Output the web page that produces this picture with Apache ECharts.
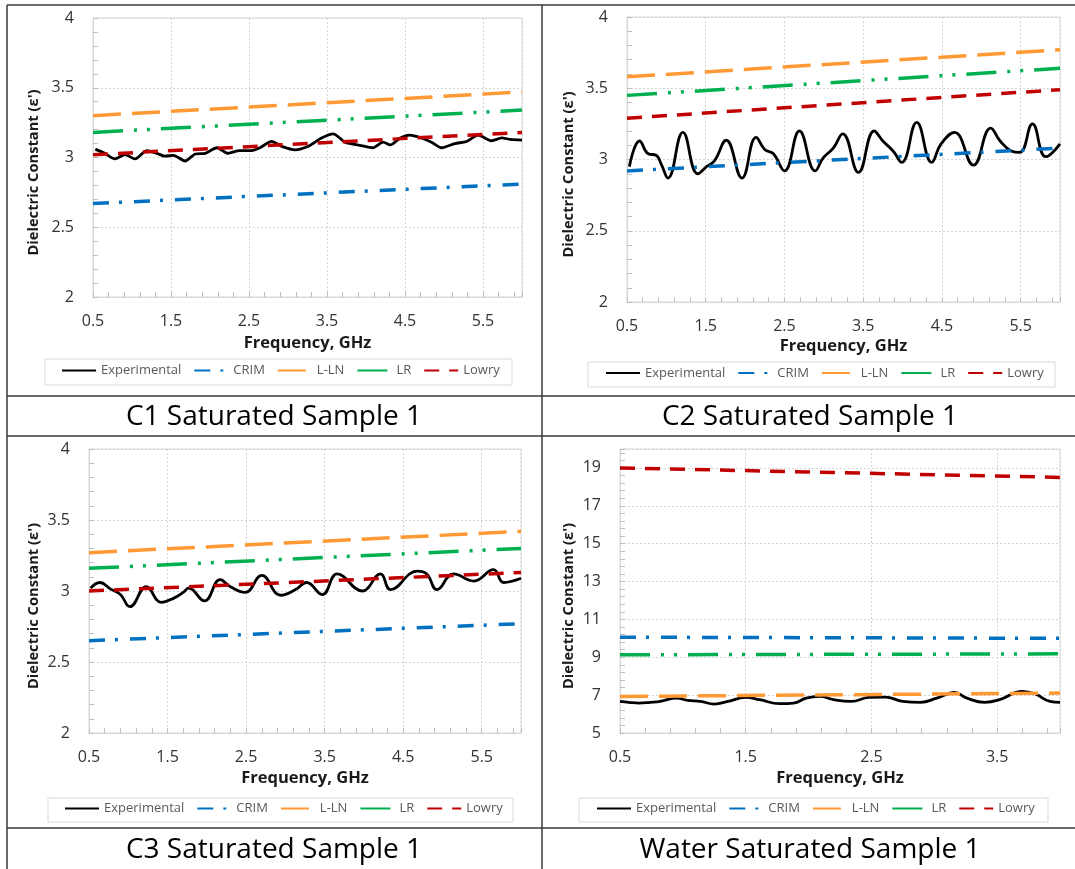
<!DOCTYPE html>
<html><head><meta charset="utf-8">
<script src="https://cdn.jsdelivr.net/npm/echarts@6/dist/echarts.min.js"></script>
<style>html,body{margin:0;padding:0;background:#fff}#c{width:1075px;height:869px}</style>
</head><body><div id="c"></div>
<script>
// ---------------- DATA ----------------
const seriesNames = ['Experimental', 'CRIM', 'L-LN', 'LR', 'Lowry'];
const panelTitles = ['C1 Saturated Sample 1', 'C2 Saturated Sample 1', 'C3 Saturated Sample 1', 'Water Saturated Sample 1'];
const xTitle = 'Frequency, GHz';
const yTitle = "Dielectric Constant (ε')";

// C1
const c1Freq = [0.53,0.65,0.78,0.91,1.04,1.19,1.32,1.42,1.53,1.68,1.81,1.94,2.09,2.23,2.38,2.53,2.64,2.79,2.92,3.09,3.26,3.43,3.58,3.73,3.94,4.09,4.22,4.31,4.44,4.56,4.71,4.84,4.97,5.14,5.29,5.44,5.61,5.74,5.85,6.0];
const c1Exp  = [3.06,3.03,2.99,3.02,2.99,3.05,3.03,3.01,3.015,2.975,3.025,3.03,3.07,3.03,3.05,3.05,3.07,3.115,3.08,3.055,3.08,3.14,3.17,3.11,3.085,3.07,3.11,3.09,3.14,3.16,3.14,3.11,3.07,3.10,3.115,3.16,3.12,3.14,3.13,3.125];
const c1ModelFreq = [0.5, 6.0];
const c1Crim  = [2.67, 2.81];
const c1Lln   = [3.30, 3.47];
const c1Lr    = [3.18, 3.34];
const c1Lowry = [3.02, 3.18];

// C2
const c2Freq = [0.53,0.66,0.77,0.87,0.94,1.02,1.21,1.40,1.51,1.61,1.76,1.96,2.14,2.25,2.36,2.50,2.69,2.89,2.99,3.12,3.24,3.44,3.64,3.75,3.88,3.99,4.18,4.37,4.49,4.66,4.90,5.12,5.24,5.38,5.49,5.65,5.82,6.0];
const c2Exp  = [2.95,3.13,3.04,3.03,2.96,2.87,3.19,2.90,2.95,2.99,3.135,2.87,3.155,3.07,3.04,2.92,3.20,2.92,3.01,3.08,3.18,2.91,3.20,3.13,3.06,2.98,3.26,2.98,3.11,3.19,2.96,3.22,3.13,3.06,3.05,3.25,3.02,3.11];
const c2ModelFreq = [0.5, 6.0];
const c2Crim  = [2.92, 3.08];
const c2Lln   = [3.58, 3.77];
const c2Lr    = [3.45, 3.64];
const c2Lowry = [3.29, 3.49];

// C3
const c3Freq = [0.52,0.64,0.77,0.90,1.02,1.23,1.42,1.58,1.70,1.77,1.97,2.17,2.30,2.49,2.70,2.94,3.13,3.27,3.47,3.66,3.98,4.21,4.34,4.68,4.80,4.93,5.14,5.40,5.65,5.78,6.0];
const c3Exp  = [3.02,3.06,3.015,2.975,2.89,3.03,2.92,2.95,2.99,3.02,2.93,3.08,3.03,2.99,3.11,2.97,3.01,3.06,2.975,3.12,3.00,3.12,3.01,3.14,3.12,3.01,3.12,3.07,3.15,3.06,3.09];
const c3ModelFreq = [0.5, 6.0];
const c3Crim  = [2.65, 2.77];
const c3Lln   = [3.27, 3.42];
const c3Lr    = [3.16, 3.30];
const c3Lowry = [3.00, 3.13];

// Water
const c4Freq = [0.5,0.57,0.65,0.74,0.82,0.95,1.04,1.14,1.25,1.36,1.50,1.61,1.77,1.88,1.98,2.09,2.20,2.34,2.48,2.61,2.75,2.89,3.02,3.16,3.26,3.40,3.52,3.70,3.80,3.92,4.0];
const c4Exp  = [6.67,6.62,6.58,6.62,6.67,6.84,6.72,6.67,6.53,6.67,6.88,6.76,6.55,6.58,6.84,6.93,6.76,6.67,6.88,6.90,6.67,6.62,6.84,7.14,6.84,6.62,6.76,7.20,7.07,6.67,6.62];
const c4ModelFreq = [0.5, 4.0];
const c4Crim  = [10.06, 10.0];
const c4Lln   = [6.93, 7.11];
const c4Lr    = [9.13, 9.18];
const c4Lowry = [19.0, 18.5];

// axis ranges / ticks
const xRanges = [[0.5, 6.0, 1], [0.5, 6.0, 1], [0.5, 6.0, 1], [0.5, 4.0, 1]];
const yRanges = [[2, 4, 0.5], [2, 4, 0.5], [2, 4, 0.5], [5, 20, 2]];

// ---------------- LAYOUT / STYLE ----------------
const FONT = "'Open Sans', sans-serif";
const grids = [
  {left: 93,  top: 18,  width: 429, height: 279},
  {left: 627, top: 17,  width: 433, height: 285},
  {left: 89,  top: 449, width: 432, height: 284},
  {left: 620, top: 449, width: 440, height: 284}
];
const yNameGap = [52, 51, 48, 44];
const xNameGap = [38, 36, 37, 37];
const legendBoxes = [[45, 359, 467, 26], [588, 362, 467, 25], [48, 798, 465, 24], [579, 798, 469, 24]];
const legendLeft = [61, 605, 64, 596];
const titlePos = [[274, 417], [810, 417], [274, 850], [810, 850]];

const styles = {
  'Experimental': {color: '#000000', width: 2.8, type: 'solid'},
  'CRIM':  {color: '#0070C0', width: 3.5, type: [16, 10, 3, 12]},
  'L-LN':  {color: '#FF9933', width: 3.5, type: [28, 11]},
  'LR':    {color: '#00B050', width: 3.5, type: [30, 11, 3, 10, 3, 11]},
  'Lowry': {color: '#C00000', width: 3.5, type: [15, 10]}
};

const panels = [
  {freq: c1Freq, exp: c1Exp, mf: c1ModelFreq, models: [c1Crim, c1Lln, c1Lr, c1Lowry]},
  {freq: c2Freq, exp: c2Exp, mf: c2ModelFreq, models: [c2Crim, c2Lln, c2Lr, c2Lowry]},
  {freq: c3Freq, exp: c3Exp, mf: c3ModelFreq, models: [c3Crim, c3Lln, c3Lr, c3Lowry]},
  {freq: c4Freq, exp: c4Exp, mf: c4ModelFreq, models: [c4Crim, c4Lln, c4Lr, c4Lowry]}
];

const zip = (xs, ys) => xs.map((x, i) => [x, ys[i]]);

const gridColor = '#d9d9d9';
const option = {
  animation: false,
  backgroundColor: '#ffffff',
  textStyle: {fontFamily: FONT},
  grid: grids.map(g => Object.assign({show: true, borderColor: gridColor, borderWidth: 1, backgroundColor: 'transparent'}, g)),
  xAxis: grids.map((g, i) => ({
    gridIndex: i, type: 'value',
    min: xRanges[i][0], max: xRanges[i][1], interval: xRanges[i][2],
    name: xTitle, nameLocation: 'middle', nameGap: xNameGap[i],
    nameTextStyle: {fontFamily: FONT, fontSize: 16.5, fontWeight: 'bold', color: '#1a1a1a'},
    axisLine: {show: true, lineStyle: {color: gridColor, width: 1}},
    axisTick: {show: true, inside: true, length: 5, lineStyle: {color: '#bfbfbf'}},
    minorTick: {show: true, splitNumber: 5, length: 5, lineStyle: {color: '#bfbfbf'}},
    axisLabel: {fontFamily: FONT, fontSize: 16, color: '#333333', margin: 16, showMaxLabel: false},
    splitLine: {show: true, lineStyle: {color: '#d4d4d4', type: [2, 2], width: 1}}
  })),
  yAxis: grids.map((g, i) => ({
    gridIndex: i, type: 'value',
    min: yRanges[i][0], max: yRanges[i][1], interval: yRanges[i][2],
    name: yTitle, nameLocation: 'middle', nameGap: yNameGap[i], nameRotate: 90,
    nameTextStyle: {fontFamily: FONT, fontSize: 14.7, fontWeight: 'bold', color: '#1a1a1a', padding: [0, 30, 0, 0]},
    axisLine: {show: true, lineStyle: {color: gridColor, width: 1}},
    axisTick: {show: true, inside: true, length: 5, lineStyle: {color: '#bfbfbf'}},
    minorTick: {show: true, splitNumber: 5, length: 5, lineStyle: {color: '#bfbfbf'}},
    axisLabel: {fontFamily: FONT, fontSize: 16, color: '#333333', margin: 19, showMaxLabel: i === 3 ? false : true},
    splitLine: {show: true, lineStyle: {color: '#d4d4d4', type: [2, 2], width: 1}}
  })),
  legend: legendBoxes.map((b, i) => ({
    orient: 'horizontal', left: legendLeft[i], top: b[1] + b[3] / 2 - 8,
    padding: 0, itemGap: 12, itemWidth: 34, itemHeight: 14,
    data: seriesNames,
    itemStyle: {opacity: 0, color: 'rgba(0,0,0,0)', borderWidth: 0},
    textStyle: {fontFamily: FONT, fontSize: 13, color: '#595959'},
    selectedMode: false
  })),
  series: [],
  graphic: []
};

panels.forEach((p, i) => {
  const all = [zip(p.freq, p.exp)].concat(p.models.map(m => zip(p.mf, m)));
  seriesNames.forEach((name, k) => {
    const s = styles[name];
    option.series.push({
      name: name, type: 'line', xAxisIndex: i, yAxisIndex: i,
      data: all[k], showSymbol: false, symbol: 'none',
      smooth: k === 0 ? (i === 0 ? 0.25 : 0.45) : false,
      lineStyle: {color: s.color, width: s.width, type: s.type, cap: 'butt'},
      itemStyle: {color: s.color},
      emphasis: {disabled: true}, silent: true, z: 2
    });
  });
});

// table borders
const tableLine = (x1, y1, x2, y2) => ({type: 'line', silent: true, z: 100,
  shape: {x1, y1, x2, y2}, style: {stroke: '#3a3a3a', lineWidth: 1.5}});
option.graphic.push(
  tableLine(7, 5, 1075, 5),
  tableLine(7, 5, 7, 869),
  tableLine(542, 5, 542, 869),
  tableLine(7, 396, 1075, 396),
  tableLine(7, 436, 1075, 436),
  tableLine(7, 828, 1075, 828)
);
legendBoxes.forEach(b => option.graphic.push({type: 'rect', silent: true, z: 0,
  shape: {x: b[0], y: b[1], width: b[2], height: b[3]},
  style: {fill: 'none', stroke: '#d9d9d9', lineWidth: 1}}));
titlePos.forEach((t, i) => option.graphic.push({type: 'text', silent: true, x: t[0], y: t[1],
  style: {text: panelTitles[i], fill: '#000', font: "28px 'Open Sans', sans-serif", align: 'center', verticalAlign: 'middle'}}));

const chart = echarts.init(document.getElementById('c'), null, {renderer: 'canvas'});
chart.setOption(option);
</script>
</body></html>
